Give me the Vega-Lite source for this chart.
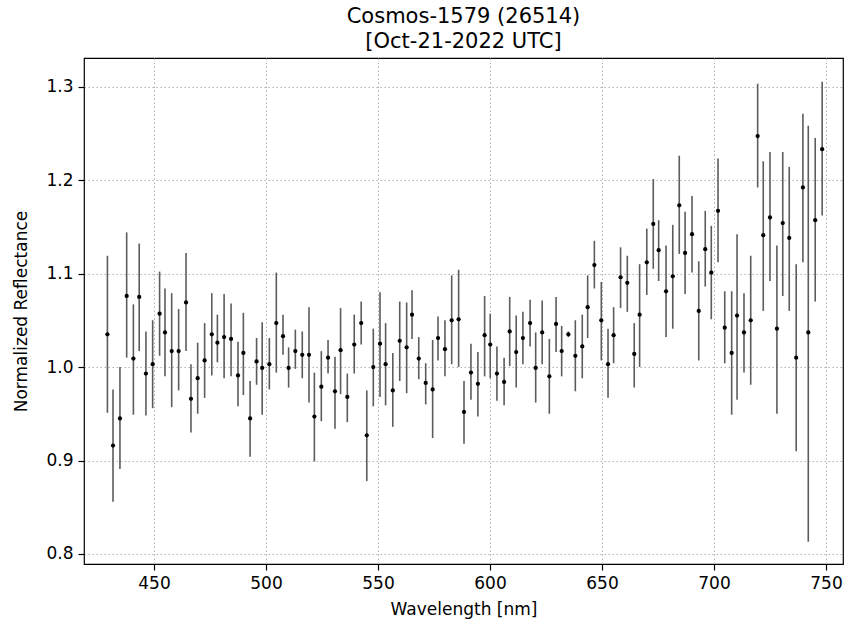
{
  "$schema": "https://vega.github.io/schema/vega-lite/v6.json",
  "width": 759,
  "height": 506,
  "autosize": {"type": "none"},
  "padding": {"left": 84, "top": 58, "right": 1, "bottom": 62},
  "background": "white",
  "title": {
    "text": ["Cosmos-1579 (26514)", " [Oct-21-2022 UTC]"],
    "fontSize": 21,
    "font": "DejaVu Sans",
    "fontWeight": "normal",
    "color": "black",
    "anchor": "middle",
    "lineHeight": 25,
    "offset": 6
  },
  "config": {
    "font": "DejaVu Sans",
    "view": {"stroke": "black", "strokeWidth": 1.2},
    "axis": {
      "domain": false,
      "grid": true,
      "gridColor": "#b0b0b0",
      "gridDash": [1.5, 2.5],
      "gridWidth": 1,
      "ticks": true,
      "tickColor": "black",
      "tickSize": 6,
      "tickWidth": 1.2,
      "labelFontSize": 17,
      "labelColor": "black",
      "labelPadding": 5,
      "titleFontSize": 17,
      "titleFontWeight": "normal",
      "titleColor": "black"
    }
  },
  "data": {
    "values": [
      {"w": 429.2, "v": 1.035, "lo": 0.951, "hi": 1.119},
      {"w": 431.7, "v": 0.916, "lo": 0.856, "hi": 0.976},
      {"w": 434.8, "v": 0.945, "lo": 0.891, "hi": 1.000},
      {"w": 437.8, "v": 1.076, "lo": 1.010, "hi": 1.144},
      {"w": 440.8, "v": 1.009, "lo": 0.949, "hi": 1.067},
      {"w": 443.4, "v": 1.075, "lo": 1.017, "hi": 1.132},
      {"w": 446.4, "v": 0.993, "lo": 0.948, "hi": 1.038},
      {"w": 449.4, "v": 1.003, "lo": 0.956, "hi": 1.050},
      {"w": 452.5, "v": 1.057, "lo": 1.012, "hi": 1.102},
      {"w": 454.9, "v": 1.037, "lo": 0.990, "hi": 1.084},
      {"w": 457.9, "v": 1.017, "lo": 0.957, "hi": 1.079},
      {"w": 461.0, "v": 1.017, "lo": 0.975, "hi": 1.062},
      {"w": 464.3, "v": 1.069, "lo": 1.017, "hi": 1.122},
      {"w": 466.5, "v": 0.966, "lo": 0.930, "hi": 1.003},
      {"w": 469.5, "v": 0.988, "lo": 0.950, "hi": 1.026},
      {"w": 472.6, "v": 1.007, "lo": 0.967, "hi": 1.047},
      {"w": 475.8, "v": 1.035, "lo": 0.991, "hi": 1.079},
      {"w": 478.3, "v": 1.026, "lo": 1.005, "hi": 1.056},
      {"w": 481.3, "v": 1.032, "lo": 0.988, "hi": 1.078},
      {"w": 484.4, "v": 1.030, "lo": 0.990, "hi": 1.068},
      {"w": 487.5, "v": 0.991, "lo": 0.958, "hi": 1.027},
      {"w": 489.9, "v": 1.015, "lo": 0.970, "hi": 1.058},
      {"w": 492.9, "v": 0.945, "lo": 0.904, "hi": 0.985},
      {"w": 495.8, "v": 1.006, "lo": 0.981, "hi": 1.031},
      {"w": 498.3, "v": 0.999, "lo": 0.949, "hi": 1.048},
      {"w": 501.5, "v": 1.003, "lo": 0.976, "hi": 1.031},
      {"w": 504.6, "v": 1.047, "lo": 0.994, "hi": 1.101},
      {"w": 507.6, "v": 1.033, "lo": 1.013, "hi": 1.056},
      {"w": 510.1, "v": 0.999, "lo": 0.978, "hi": 1.021},
      {"w": 513.1, "v": 1.017, "lo": 0.998, "hi": 1.040},
      {"w": 516.2, "v": 1.013, "lo": 0.988, "hi": 1.038},
      {"w": 519.2, "v": 1.013, "lo": 0.962, "hi": 1.064},
      {"w": 521.6, "v": 0.947, "lo": 0.899, "hi": 0.994},
      {"w": 524.7, "v": 0.979, "lo": 0.942, "hi": 1.017},
      {"w": 527.7, "v": 1.010, "lo": 0.993, "hi": 1.029},
      {"w": 530.8, "v": 0.974, "lo": 0.934, "hi": 1.011},
      {"w": 533.3, "v": 1.018, "lo": 0.971, "hi": 1.063},
      {"w": 536.3, "v": 0.968, "lo": 0.941, "hi": 0.993},
      {"w": 539.4, "v": 1.024, "lo": 0.993, "hi": 1.056},
      {"w": 542.5, "v": 1.047, "lo": 1.024, "hi": 1.070},
      {"w": 545.0, "v": 0.927, "lo": 0.878, "hi": 0.975},
      {"w": 547.9, "v": 1.000, "lo": 0.958, "hi": 1.041},
      {"w": 550.9, "v": 1.025, "lo": 0.968, "hi": 1.080},
      {"w": 553.4, "v": 1.003, "lo": 0.959, "hi": 1.047},
      {"w": 556.6, "v": 0.975, "lo": 0.936, "hi": 1.015},
      {"w": 559.7, "v": 1.028, "lo": 0.985, "hi": 1.070},
      {"w": 562.8, "v": 1.021, "lo": 0.972, "hi": 1.069},
      {"w": 565.2, "v": 1.056, "lo": 1.030, "hi": 1.082},
      {"w": 568.2, "v": 1.009, "lo": 0.987, "hi": 1.032},
      {"w": 571.3, "v": 0.983, "lo": 0.960, "hi": 1.004},
      {"w": 574.4, "v": 0.976, "lo": 0.924, "hi": 1.029},
      {"w": 576.8, "v": 1.031, "lo": 1.007, "hi": 1.054},
      {"w": 579.9, "v": 1.019, "lo": 0.990, "hi": 1.050},
      {"w": 582.9, "v": 1.050, "lo": 1.003, "hi": 1.098},
      {"w": 586.0, "v": 1.051, "lo": 1.000, "hi": 1.104},
      {"w": 588.4, "v": 0.952, "lo": 0.918, "hi": 0.985},
      {"w": 591.5, "v": 0.994, "lo": 0.965, "hi": 1.025},
      {"w": 594.6, "v": 0.982, "lo": 0.947, "hi": 1.016},
      {"w": 597.6, "v": 1.034, "lo": 0.990, "hi": 1.076},
      {"w": 600.1, "v": 1.024, "lo": 0.988, "hi": 1.057},
      {"w": 603.1, "v": 0.993, "lo": 0.964, "hi": 1.022},
      {"w": 606.3, "v": 0.984, "lo": 0.959, "hi": 1.010},
      {"w": 608.8, "v": 1.038, "lo": 1.001, "hi": 1.075},
      {"w": 611.7, "v": 1.016, "lo": 0.978, "hi": 1.055},
      {"w": 614.7, "v": 1.031, "lo": 1.003, "hi": 1.059},
      {"w": 617.9, "v": 1.047, "lo": 1.022, "hi": 1.072},
      {"w": 620.4, "v": 0.999, "lo": 0.962, "hi": 1.037},
      {"w": 623.3, "v": 1.037, "lo": 1.003, "hi": 1.071},
      {"w": 626.5, "v": 0.990, "lo": 0.950, "hi": 1.030},
      {"w": 629.5, "v": 1.046, "lo": 1.016, "hi": 1.075},
      {"w": 632.0, "v": 1.017, "lo": 0.990, "hi": 1.044},
      {"w": 635.0, "v": 1.035, "lo": 1.032, "hi": 1.038},
      {"w": 638.1, "v": 1.012, "lo": 0.974, "hi": 1.050},
      {"w": 641.2, "v": 1.022, "lo": 0.988, "hi": 1.056},
      {"w": 643.6, "v": 1.064, "lo": 1.031, "hi": 1.098},
      {"w": 646.6, "v": 1.109, "lo": 1.084, "hi": 1.135},
      {"w": 649.7, "v": 1.050, "lo": 1.007, "hi": 1.091},
      {"w": 652.7, "v": 1.003, "lo": 0.967, "hi": 1.041},
      {"w": 655.2, "v": 1.034, "lo": 1.004, "hi": 1.064},
      {"w": 658.3, "v": 1.096, "lo": 1.063, "hi": 1.128},
      {"w": 661.3, "v": 1.090, "lo": 1.059, "hi": 1.119},
      {"w": 664.4, "v": 1.014, "lo": 0.978, "hi": 1.047},
      {"w": 666.8, "v": 1.056, "lo": 1.000, "hi": 1.110},
      {"w": 670.0, "v": 1.112, "lo": 1.077, "hi": 1.148},
      {"w": 672.9, "v": 1.153, "lo": 1.105, "hi": 1.201},
      {"w": 675.3, "v": 1.125, "lo": 1.092, "hi": 1.157},
      {"w": 678.6, "v": 1.081, "lo": 1.032, "hi": 1.130},
      {"w": 681.6, "v": 1.097, "lo": 1.041, "hi": 1.152},
      {"w": 684.5, "v": 1.173, "lo": 1.121, "hi": 1.226},
      {"w": 687.1, "v": 1.122, "lo": 1.078, "hi": 1.166},
      {"w": 690.2, "v": 1.142, "lo": 1.101, "hi": 1.183},
      {"w": 693.2, "v": 1.060, "lo": 1.007, "hi": 1.113},
      {"w": 696.1, "v": 1.126, "lo": 1.086, "hi": 1.167},
      {"w": 698.8, "v": 1.101, "lo": 1.051, "hi": 1.151},
      {"w": 701.8, "v": 1.167, "lo": 1.112, "hi": 1.223},
      {"w": 704.8, "v": 1.042, "lo": 1.004, "hi": 1.081},
      {"w": 707.9, "v": 1.015, "lo": 0.949, "hi": 1.081},
      {"w": 710.3, "v": 1.055, "lo": 0.965, "hi": 1.142},
      {"w": 713.4, "v": 1.037, "lo": 0.994, "hi": 1.079},
      {"w": 716.4, "v": 1.050, "lo": 0.981, "hi": 1.119},
      {"w": 719.5, "v": 1.247, "lo": 1.192, "hi": 1.303},
      {"w": 722.0, "v": 1.141, "lo": 1.060, "hi": 1.220},
      {"w": 725.0, "v": 1.160, "lo": 1.092, "hi": 1.230},
      {"w": 728.1, "v": 1.041, "lo": 0.950, "hi": 1.130},
      {"w": 730.7, "v": 1.154, "lo": 1.076, "hi": 1.230},
      {"w": 733.6, "v": 1.138, "lo": 1.060, "hi": 1.214},
      {"w": 736.7, "v": 1.010, "lo": 0.910, "hi": 1.110},
      {"w": 739.7, "v": 1.192, "lo": 1.112, "hi": 1.271},
      {"w": 742.1, "v": 1.037, "lo": 0.813, "hi": 1.258},
      {"w": 745.2, "v": 1.157, "lo": 1.070, "hi": 1.245},
      {"w": 748.3, "v": 1.233, "lo": 1.162, "hi": 1.305}
    ]
  },
  "encoding": {
    "x": {
      "field": "w",
      "type": "quantitative",
      "scale": {"domain": [418.75, 757.6], "nice": false, "zero": false},
      "axis": {
        "values": [450, 500, 550, 600, 650, 700, 750],
        "title": "Wavelength [nm]",
        "titleX": 379.5,
        "titleY": 45,
        "titleBaseline": "middle",
        "titleAlign": "center"
      }
    }
  },
  "layer": [
    {
      "mark": {"type": "rule", "color": "#5c5c5c", "strokeWidth": 1.6},
      "encoding": {
        "y": {
          "field": "lo",
          "type": "quantitative",
          "scale": {"domain": [0.7893, 1.3305], "nice": false, "zero": false},
          "axis": {
            "values": [0.8, 0.9, 1.0, 1.1, 1.2, 1.3],
            "format": ".1f",
            "title": "Normalized Reflectance",
            "titleX": -63,
            "titleY": 253,
            "titleAngle": 270,
            "titleAlign": "center",
            "titleBaseline": "middle"
          }
        },
        "y2": {"field": "hi"}
      }
    },
    {
      "mark": {"type": "point", "filled": true, "color": "black", "opacity": 1, "size": 18},
      "encoding": {
        "y": {"field": "v", "type": "quantitative"}
      }
    }
  ]
}
